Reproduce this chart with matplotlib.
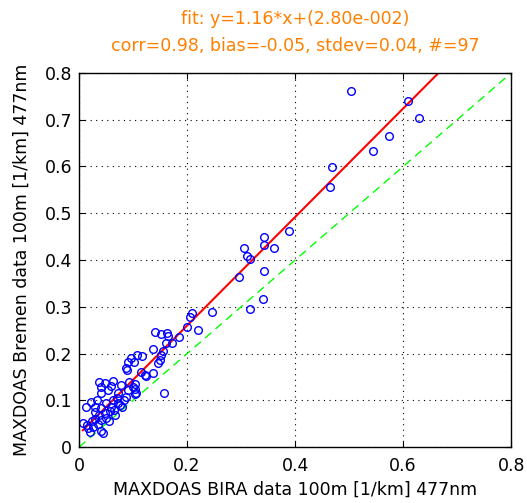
import numpy as np
import matplotlib
matplotlib.use('Agg')
import matplotlib.pyplot as plt

# BIRA (x) vs Bremen (y) extinction, 100m layer, 477nm
bira = [0.504, 0.609, 0.630, 0.574, 0.544, 0.469, 0.465, 0.389,
        0.343, 0.343, 0.361, 0.305, 0.311, 0.317, 0.343, 0.296, 0.340, 0.317, 0.246,
        0.209, 0.206, 0.200, 0.220, 0.141, 0.152, 0.163, 0.165, 0.185, 0.161,
        0.172, 0.137, 0.156, 0.117, 0.152, 0.150, 0.146, 0.137, 0.124, 0.157,
        0.091, 0.102, 0.087, 0.122, 0.107, 0.096, 0.089,
        0.037, 0.048, 0.063, 0.078, 0.041, 0.054, 0.041, 0.072, 0.091, 0.100,
        0.105, 0.087, 0.104, 0.104, 0.104,
        0.022, 0.013, 0.030, 0.041, 0.059, 0.072, 0.080, 0.048, 0.057, 0.037,
        0.067, 0.041, 0.076, 0.083, 0.063, 0.050, 0.029,
        0.007, 0.017, 0.026, 0.041, 0.020, 0.044, 0.015, 0.030, 0.024, 0.035,
        0.055, 0.065, 0.070, 0.033, 0.050, 0.093, 0.115, 0.060]
bremen = [0.761, 0.741, 0.703, 0.666, 0.633, 0.599, 0.556, 0.462,
          0.450, 0.432, 0.426, 0.426, 0.408, 0.402, 0.376, 0.364, 0.317, 0.295, 0.289,
          0.287, 0.278, 0.257, 0.250, 0.246, 0.241, 0.244, 0.237, 0.235, 0.222,
          0.222, 0.210, 0.205, 0.195, 0.197, 0.186, 0.180, 0.158, 0.152, 0.116,
          0.182, 0.182, 0.169, 0.154, 0.196, 0.190, 0.165,
          0.139, 0.137, 0.141, 0.133, 0.128, 0.122, 0.116, 0.116, 0.122, 0.128,
          0.116, 0.107, 0.135, 0.124, 0.113,
          0.096, 0.085, 0.085, 0.083, 0.085, 0.094, 0.085, 0.073, 0.077, 0.068,
          0.068, 0.058, 0.090, 0.100, 0.100, 0.062, 0.075,
          0.051, 0.040, 0.043, 0.034, 0.032, 0.030, 0.047, 0.060, 0.055, 0.050,
          0.055, 0.080, 0.105, 0.100, 0.095, 0.140, 0.160, 0.130]

slope = 1.16
offset = 0.028
ticks = [0, 0.2, 0.4, 0.6, 0.8]
yticks = [0, 0.1, 0.2, 0.3, 0.4, 0.5, 0.6, 0.7, 0.8]

plt.rcParams['font.family'] = ['DejaVu Sans']

fig = plt.figure(figsize=(5.27, 5.03), dpi=100)
ax = fig.add_axes([0.150, 0.111, 0.820, 0.744])

ax.plot([0, 0.8], [0, 0.8], linestyle=(0, (6, 4)), color='#00ff00', lw=1)
xf = np.array([0.007, 0.8])
ax.plot(xf, slope * xf + offset, color='red', lw=1.5)
ax.plot(bira, bremen, 'o', mfc='none', mec='blue', ms=5.5, mew=1)

ax.set_xlim(0, 0.8)
ax.set_ylim(0, 0.8)
ax.set_xticks(ticks)
ax.set_yticks(yticks)
ax.set_xticklabels(['0', '0.2', '0.4', '0.6', '0.8'])
ax.set_yticklabels(['0', '0.1', '0.2', '0.3', '0.4', '0.5', '0.6', '0.7', '0.8'])
ax.tick_params(direction='in', top=True, right=True, length=4, labelsize=12.5)
ax.tick_params(axis='x', pad=7)
ax.tick_params(axis='y', pad=5)
ax.grid(True, linestyle=(0, (1, 4)), color='black', lw=0.8)
for s in ax.spines.values():
    s.set_linewidth(1)

ax.set_xlabel('MAXDOAS BIRA data 100m [1/km] 477nm', fontsize=12.5, labelpad=4)
ax.set_ylabel('MAXDOAS Bremen data 100m [1/km] 477nm', fontsize=12.5, labelpad=10)
ax.set_title('fit: y=%.2f*x+(2.80e-002)\ncorr=0.98, bias=-0.05, stdev=0.04, #=97' % slope,
             color='#ff8000', fontsize=12.5, pad=16, linespacing=1.6)

fig.savefig('out.png', dpi=100)
